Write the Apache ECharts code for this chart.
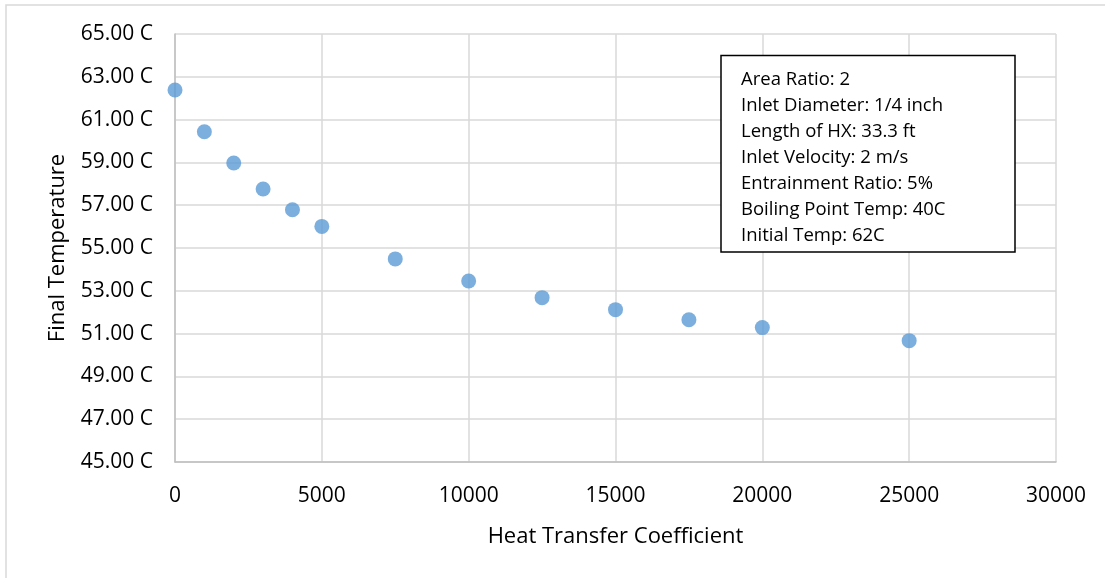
<!DOCTYPE html>
<html>
<head>
<meta charset="utf-8">
<script src="https://cdn.jsdelivr.net/npm/echarts@6/dist/echarts.min.js"></script>
<style>
  html, body { margin: 0; padding: 0; background: #fff; }
  #chart { width: 1105px; height: 578px; }
</style>
</head>
<body>
<div id="chart"></div>
<script>
const heatTransferCoeff = [0, 1000, 2000, 3000, 4000, 5000, 7500, 10000, 12500, 15000, 17500, 20000, 25000];
const finalTemp = [62.38, 60.43, 58.97, 57.76, 56.79, 56.01, 54.49, 53.46, 52.68, 52.12, 51.65, 51.28, 50.67];
const xTitle = 'Heat Transfer Coefficient';
const yTitle = 'Final Temperature';
const noteLines = [
  'Area Ratio: 2',
  'Inlet Diameter: 1/4 inch',
  'Length of HX: 33.3 ft',
  'Inlet Velocity: 2 m/s',
  'Entrainment Ratio: 5%',
  'Boiling Point Temp: 40C',
  'Initial Temp: 62C'
];

const FONT = '"Open Sans", "Noto Sans", sans-serif';
const chart = echarts.init(document.getElementById('chart'), null, { renderer: 'canvas' });
const points = heatTransferCoeff.map((x, i) => [x, finalTemp[i]]);

chart.setOption({
  animation: false,
  backgroundColor: '#ffffff',
  grid: { left: 175, top: 34, width: 881, height: 428, containLabel: false },
  xAxis: {
    type: 'value', min: 0, max: 30000, interval: 5000,
    name: xTitle, nameLocation: 'middle', nameGap: 64,
    nameTextStyle: { fontFamily: FONT, fontSize: 22, color: '#000' },
    axisLine: { show: true, lineStyle: { color: '#bfbfbf', width: 1.5 } },
    axisTick: { show: false },
    axisLabel: { fontFamily: FONT, fontSize: 21, color: '#000', margin: 24,
      formatter: v => String(v) },
    splitLine: { show: true, lineStyle: { color: '#d9d9d9', width: 1.5 } }
  },
  yAxis: {
    type: 'value', min: 45, max: 65, interval: 2,
    name: yTitle, nameLocation: 'middle', nameGap: 106, nameRotate: 90,
    nameTextStyle: { fontFamily: FONT, fontSize: 22, color: '#000' },
    axisLine: { show: true, lineStyle: { color: '#bfbfbf', width: 1.5 } },
    axisTick: { show: false },
    axisLabel: { fontFamily: FONT, fontSize: 21, color: '#000', margin: 22,
      formatter: v => v.toFixed(2) + ' C' },
    splitLine: { show: true, lineStyle: { color: '#d9d9d9', width: 1.5 } }
  },
  series: [{
    type: 'scatter',
    data: points,
    symbol: 'circle',
    symbolSize: 15,
    itemStyle: { color: '#5b9bd5' },
    z: 5
  }],
  graphic: [
    { type: 'polyline', shape: { points: [[6, 578], [6, 5], [1105, 5]] },
      style: { stroke: '#d9d9d9', lineWidth: 1.5, fill: null }, silent: true },
    { type: 'rect', shape: { x: 721, y: 55.5, width: 294, height: 196.5 },
      style: { fill: '#ffffff', stroke: '#000000', lineWidth: 1.5 }, z: 100 },
    { type: 'text', x: 741, y: 67, z: 101,
      style: { text: noteLines.join('\n'), font: '18.5px ' + FONT, fill: '#000',
        lineHeight: 26, textVerticalAlign: 'top' } }
  ]
});
</script>
</body>
</html>
